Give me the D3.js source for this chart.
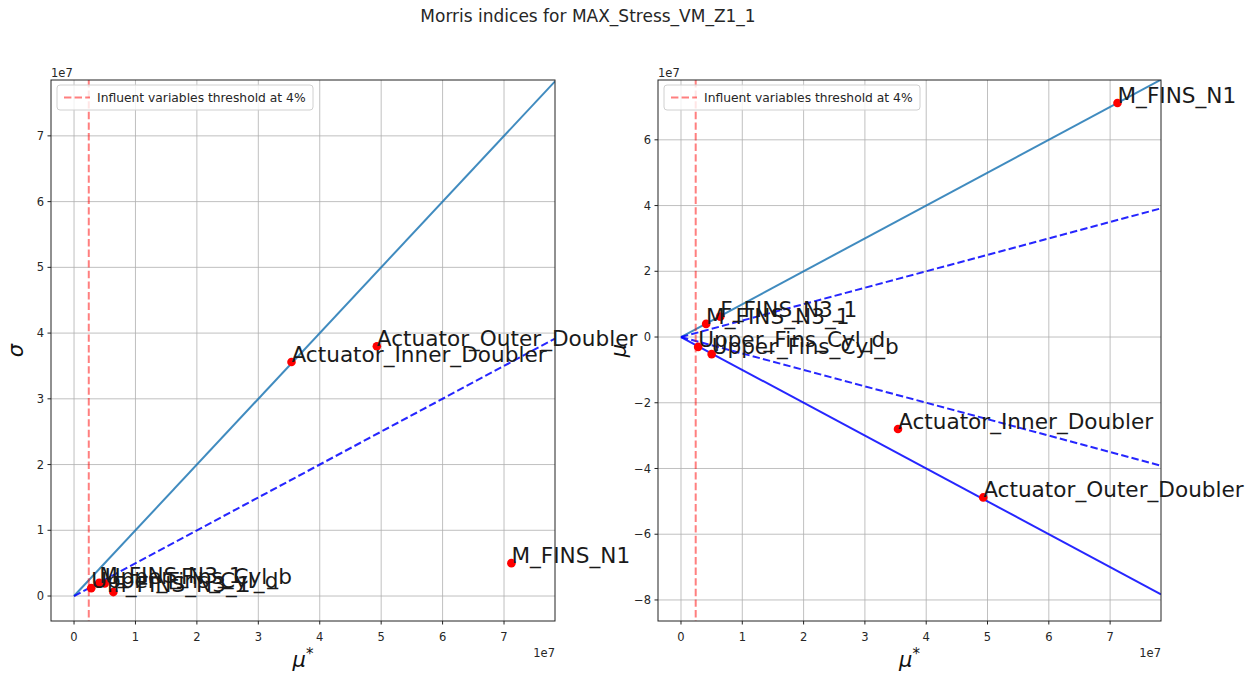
<!DOCTYPE html>
<html>
<head>
<meta charset="utf-8">
<script src="https://cdnjs.cloudflare.com/ajax/libs/d3/7.8.5/d3.min.js"></script>
<style>
    body { margin: 0; background: #fff; }
    svg { font-family: "DejaVu Sans", sans-serif; }
</style>
</head>
<body>
<div id="chart"></div>
<script>
// Morris indices data (values in units)
const variables = ['M_FINS_N1', 'Actuator_Outer_Doubler', 'Actuator_Inner_Doubler',
    'F_FINS_N3_1', 'M_FINS_N3_1', 'Upper_Fins_Cyl_d', 'Upper_Fins_Cyl_b'];
const muStar = [7.12e7, 4.93e7, 3.54e7, 0.64e7, 0.41e7, 0.28e7, 0.50e7];
const mu = [7.12e7, -4.88e7, -2.80e7, 0.62e7, 0.40e7, -0.30e7, -0.52e7];
const sigma = [0.50e7, 3.80e7, 3.56e7, 0.06e7, 0.20e7, 0.12e7, 0.19e7];
const threshold = 0.24e7;

const xTicks = [0, 1, 2, 3, 4, 5, 6, 7];
const sigmaTicks = [0, 1, 2, 3, 4, 5, 6, 7];
const muTicks = [-8, -6, -4, -2, 0, 2, 4, 6];

// reference lines: slope, colour, dashed
const sigmaLines = [
    { slope: 1, color: '#1f77b4', dashed: false },
    { slope: 0.5, color: '#0000ff', dashed: true }
];
const muLines = [
    { slope: 1, color: '#1f77b4', dashed: false },
    { slope: 0.5, color: '#0000ff', dashed: true },
    { slope: -0.5, color: '#0000ff', dashed: true },
    { slope: -1, color: '#0000ff', dashed: false }
];

const width = 1252;
const height = 678;

const svg = d3.select('#chart')
    .append('svg')
    .attr('width', width)
    .attr('height', height);

svg.append('text')
    .attr('x', 588)
    .attr('y', 22)
    .attr('text-anchor', 'middle')
    .style('font-size', '17px')
    .style('fill', '#262626')
    .text('Morris indices for MAX_Stress_VM_Z1_1');

function drawPanel(opts) {
    const x = d3.scaleLinear().domain(opts.xDomain).range([opts.left, opts.right]);
    const y = d3.scaleLinear().domain(opts.yDomain).range([opts.bottom, opts.top]);
    const g = svg.append('g');

    svg.append('clipPath')
        .attr('id', opts.id + '-clip')
        .append('rect')
        .attr('x', opts.left)
        .attr('y', opts.top)
        .attr('width', opts.right - opts.left)
        .attr('height', opts.bottom - opts.top);

    // grid
    g.selectAll('.vgrid')
        .data(xTicks)
        .enter()
        .append('line')
        .attr('x1', d => x(d * 1e7)).attr('x2', d => x(d * 1e7))
        .attr('y1', opts.top).attr('y2', opts.bottom)
        .attr('stroke', '#b0b0b0').attr('stroke-width', 0.8);
    g.selectAll('.hgrid')
        .data(opts.yTicks)
        .enter()
        .append('line')
        .attr('y1', d => y(d * 1e7)).attr('y2', d => y(d * 1e7))
        .attr('x1', opts.left).attr('x2', opts.right)
        .attr('stroke', '#b0b0b0').attr('stroke-width', 0.8);

    const plot = g.append('g').attr('clip-path', `url(#${opts.id}-clip)`);

    // reference lines through origin
    const xMax = opts.xDomain[1];
    plot.selectAll('.ref')
        .data(opts.lines)
        .enter()
        .append('line')
        .attr('x1', x(0)).attr('y1', y(0))
        .attr('x2', x(xMax)).attr('y2', d => y(d.slope * xMax))
        .attr('stroke', d => d.color)
        .attr('stroke-opacity', 0.85)
        .attr('stroke-width', 2)
        .attr('stroke-dasharray', d => d.dashed ? '7.4,3.2' : null);

    // threshold
    plot.append('line')
        .attr('x1', x(threshold)).attr('x2', x(threshold))
        .attr('y1', opts.top).attr('y2', opts.bottom)
        .attr('stroke', '#ff0000').attr('stroke-opacity', 0.5)
        .attr('stroke-width', 2)
        .attr('stroke-dasharray', '7.4,3.2');

    // points
    g.selectAll('.pt')
        .data(variables)
        .enter()
        .append('circle')
        .attr('cx', (d, i) => x(muStar[i]))
        .attr('cy', (d, i) => y(opts.values[i]))
        .attr('r', 4.3)
        .attr('fill', '#ff0000');

    // labels
    g.selectAll('.lbl')
        .data(variables)
        .enter()
        .append('text')
        .attr('x', (d, i) => x(muStar[i]))
        .attr('y', (d, i) => y(opts.values[i]))
        .style('font-size', '21.6px')
        .style('fill', '#1a1a1a')
        .text(d => d);

    // frame
    g.append('rect')
        .attr('x', opts.left).attr('y', opts.top)
        .attr('width', opts.right - opts.left)
        .attr('height', opts.bottom - opts.top)
        .attr('fill', 'none').attr('stroke', '#222').attr('stroke-width', 1);

    // x ticks
    const xt = g.selectAll('.xt').data(xTicks).enter().append('g');
    xt.append('line')
        .attr('x1', d => x(d * 1e7)).attr('x2', d => x(d * 1e7))
        .attr('y1', opts.bottom).attr('y2', opts.bottom + 3.5)
        .attr('stroke', '#222');
    xt.append('text')
        .attr('x', d => x(d * 1e7))
        .attr('y', opts.bottom + 20)
        .attr('text-anchor', 'middle')
        .style('font-size', '11.5px')
        .style('fill', '#262626')
        .text(d => d);

    // y ticks
    const yt = g.selectAll('.yt').data(opts.yTicks).enter().append('g');
    yt.append('line')
        .attr('y1', d => y(d * 1e7)).attr('y2', d => y(d * 1e7))
        .attr('x1', opts.left).attr('x2', opts.left - 3.5)
        .attr('stroke', '#222');
    yt.append('text')
        .attr('x', opts.left - 7)
        .attr('y', d => y(d * 1e7))
        .attr('dy', '0.36em')
        .attr('text-anchor', 'end')
        .style('font-size', '11.5px')
        .style('fill', '#262626')
        .text(d => d < 0 ? '\u2212' + Math.abs(d) : d);

    // offset texts
    g.append('text')
        .attr('x', opts.left)
        .attr('y', opts.top - 3)
        .style('font-size', '11.5px')
        .style('fill', '#262626')
        .text('1e7');
    g.append('text')
        .attr('x', opts.right)
        .attr('y', opts.bottom + 36)
        .attr('text-anchor', 'end')
        .style('font-size', '11.5px')
        .style('fill', '#262626')
        .text('1e7');

    // axis labels
    const xl = g.append('text')
        .attr('x', (opts.left + opts.right) / 2)
        .attr('y', opts.bottom + 46)
        .attr('text-anchor', 'middle')
        .style('font-size', '21px')
        .style('font-style', 'italic')
        .style('fill', '#111');
    xl.append('tspan').text('\u03bc');
    xl.append('tspan').attr('dy', '-0.55em').style('font-size', '15px').style('font-style', 'normal').text('*');

    g.append('text')
        .attr('transform', `translate(${opts.left - opts.yLabelGap},${(opts.top + opts.bottom) / 2}) rotate(-90)`)
        .attr('text-anchor', 'middle')
        .style('font-size', '21px')
        .style('font-style', 'italic')
        .style('fill', '#111')
        .text(opts.yLabel);

    // legend
    const lg = g.append('g').attr('transform', `translate(${opts.left + 6},${opts.top + 5})`);
    lg.append('rect')
        .attr('width', 256).attr('height', 25)
        .attr('rx', 3)
        .attr('fill', '#fff').attr('fill-opacity', 0.8)
        .attr('stroke', '#d0d0d0');
    lg.append('line')
        .attr('x1', 7).attr('x2', 33)
        .attr('y1', 12.5).attr('y2', 12.5)
        .attr('stroke', '#ff0000').attr('stroke-opacity', 0.5)
        .attr('stroke-width', 2)
        .attr('stroke-dasharray', '7.4,3.2');
    lg.append('text')
        .attr('x', 40).attr('y', 12.5)
        .attr('dy', '0.36em')
        .style('font-size', '12.3px')
        .style('fill', '#262626')
        .text('Influent variables threshold at 4%');
}

drawPanel({
    id: 'sigma',
    left: 51, right: 555, top: 80, bottom: 621,
    xDomain: [-0.375e7, 7.83e7],
    yDomain: [-0.38e7, 7.85e7],
    yTicks: sigmaTicks,
    values: sigma,
    lines: sigmaLines,
    yLabel: '\u03c3',
    yLabelGap: 28
});

drawPanel({
    id: 'mu',
    left: 658, right: 1161, top: 80, bottom: 621,
    xDomain: [-0.375e7, 7.83e7],
    yDomain: [-8.64e7, 7.82e7],
    yTicks: muTicks,
    values: mu,
    lines: muLines,
    yLabel: '\u03bc',
    yLabelGap: 32
});
</script>
</body>
</html>
